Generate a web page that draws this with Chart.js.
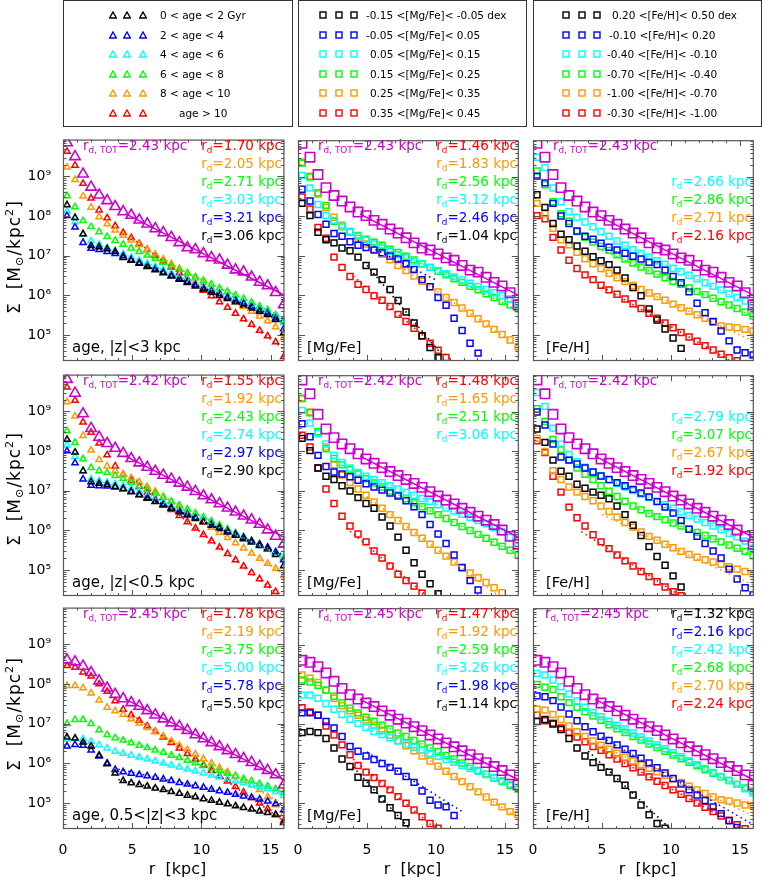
<!DOCTYPE html>
<html>
<head>
<meta charset="utf-8">
<script src="https://cdn.jsdelivr.net/npm/chart.js@4.4.1/dist/chart.umd.min.js"></script>
<style>
body{margin:0;background:#fff;width:763px;height:880px;position:relative;overflow:hidden;font-family:"DejaVu Sans",sans-serif}
canvas{position:absolute}
.t{position:absolute;white-space:nowrap;line-height:1}
.t sub{font-size:66%;vertical-align:-0.3em;line-height:0}
.t sup{font-size:66%;vertical-align:0.55em;line-height:0}
.box{position:absolute;border:1.3px solid #333;box-sizing:border-box}
</style>
</head>
<body>
<script>
"use strict"

// radial bins (kpc)
const radius = [0.29, 0.87, 1.45, 2.03, 2.61, 3.19, 3.77, 4.35, 4.93, 5.51, 6.09, 6.67, 7.25, 7.83,
                8.41, 8.99, 9.57, 10.15, 10.73, 11.31, 11.89, 12.47, 13.05, 13.63, 14.21, 14.79, 15.37, 15.95];

// log10 Sigma of the whole disc, one per row
const totZ3  = [9.85, 9.50, 9.06, 8.73, 8.53, 8.39, 8.24, 8.11, 8.02, 7.90, 7.80, 7.68, 7.58, 7.46, 7.33, 7.20, 7.15, 7.05, 6.95, 6.89, 6.76, 6.64, 6.59, 6.46, 6.33, 6.24, 6.07, 5.76];
const totZ05 = [9.81, 9.46, 8.94, 8.57, 8.35, 8.19, 8.07, 7.94, 7.81, 7.70, 7.59, 7.49, 7.39, 7.29, 7.19, 7.09, 6.98, 6.87, 6.77, 6.67, 6.56, 6.46, 6.36, 6.26, 6.15, 6.01, 5.85, 5.65];
const totZ53 = [8.61, 8.56, 8.45, 8.29, 8.08, 7.90, 7.74, 7.63, 7.53, 7.44, 7.33, 7.22, 7.12, 7.02, 6.93, 6.83, 6.72, 6.62, 6.52, 6.42, 6.32, 6.22, 6.12, 6.02, 5.92, 5.82, 5.71, 5.45];

// log10 Sigma per bin: [black, blue, cyan, green, orange, red]
const ageZ3 = [
  [8.28, 7.96, 7.55, 7.25, 7.22, 7.17, 7.10, 6.95, 6.88, 6.80, 6.72, 6.64, 6.56, 6.48, 6.40, 6.32, 6.23, 6.15, 6.07, 5.99, 5.91, 5.83, 5.75, 5.67, 5.59, 5.51, 5.38, 5.05],
  [8.01, 7.72, 7.33, 7.18, 7.15, 7.10, 7.05, 6.99, 6.90, 6.82, 6.74, 6.66, 6.58, 6.50, 6.42, 6.34, 6.26, 6.18, 6.10, 6.03, 5.95, 5.87, 5.79, 5.71, 5.63, 5.55, 5.42, 5.15],
  [8.12, 7.85, 7.54, 7.37, 7.28, 7.20, 7.12, 7.04, 6.96, 6.88, 6.80, 6.72, 6.64, 6.55, 6.47, 6.39, 6.31, 6.23, 6.15, 6.06, 5.98, 5.90, 5.82, 5.74, 5.66, 5.58, 5.45, 5.30],
  [8.51, 8.23, 7.88, 7.73, 7.60, 7.48, 7.38, 7.28, 7.19, 7.10, 7.01, 6.92, 6.83, 6.74, 6.65, 6.56, 6.46, 6.37, 6.28, 6.18, 6.09, 6.00, 5.91, 5.82, 5.72, 5.63, 5.50, 5.35],
  [9.23, 8.92, 8.50, 8.22, 7.98, 7.80, 7.64, 7.51, 7.39, 7.27, 7.15, 7.03, 6.91, 6.79, 6.67, 6.55, 6.43, 6.31, 6.19, 6.07, 5.95, 5.83, 5.71, 5.59, 5.47, 5.35, 5.20, 4.93],
  [9.63, 9.28, 8.82, 8.45, 8.15, 7.95, 7.75, 7.58, 7.45, 7.30, 7.15, 7.00, 6.86, 6.71, 6.56, 6.41, 6.27, 6.12, 5.98, 5.83, 5.69, 5.54, 5.40, 5.26, 5.11, 4.97, 4.82, 4.45]
];
const mgZ3 = [
  [8.33, 8.02, 7.60, 7.41, 7.33, 7.20, 7.13, 6.97, 6.76, 6.59, 6.40, 6.15, 5.87, 5.58, 5.30, 4.98, 4.68, 4.42, null, null, null, null, null, null, null, null, null, null],
  [8.69, 8.39, 8.05, 7.80, 7.57, 7.50, 7.36, 7.27, 7.21, 7.15, 7.08, 7.00, 6.92, 6.80, 6.66, 6.40, 6.22, 5.95, 5.75, 5.42, 5.11, 4.79, 4.54, null, null, null, null, null],
  [9.04, 8.72, 8.30, 8.03, 7.90, 7.75, 7.62, 7.50, 7.40, 7.30, 7.20, 7.11, 7.03, 6.95, 6.87, 6.79, 6.71, 6.63, 6.55, 6.47, 6.39, 6.31, 6.23, 6.15, 6.07, 5.99, 5.91, 5.80],
  [9.35, 9.00, 8.60, 8.28, 7.88, 7.74, 7.62, 7.52, 7.42, 7.35, 7.27, 7.17, 7.09, 6.99, 6.90, 6.80, 6.71, 6.61, 6.52, 6.42, 6.33, 6.23, 6.14, 6.04, 5.95, 5.85, 5.76, 5.66],
  [9.37, 9.02, 8.57, 8.23, 7.98, 7.78, 7.60, 7.44, 7.30, 7.17, 7.04, 6.90, 6.76, 6.63, 6.49, 6.36, 6.22, 6.09, 5.95, 5.82, 5.68, 5.55, 5.41, 5.28, 5.14, 5.01, 4.87, 4.70],
  [8.49, 8.19, 7.72, 7.45, 6.97, 6.71, 6.48, 6.28, 6.15, 5.99, 5.88, 5.72, 5.52, 5.34, 5.17, 4.97, 4.79, 4.61, 4.43, null, null, null, null, null, null, null, null, null]
];
const feZ3 = [
  [8.55, 8.23, 7.82, 7.55, 7.41, 7.25, 7.12, 6.98, 6.88, 6.78, 6.64, 6.44, 6.20, 5.99, 5.66, 5.38, 5.15, 4.92, 4.66, null, null, null, null, null, null, null, null, null],
  [9.02, 8.85, 8.33, 8.01, 7.82, 7.63, 7.50, 7.42, 7.32, 7.22, 7.15, 7.07, 6.99, 6.92, 6.84, 6.78, 6.64, 6.48, 6.32, 6.09, 5.80, 5.56, 5.34, 5.10, 4.85, 4.62, 4.55, 4.49],
  [9.50, 9.24, 8.72, 8.37, 8.12, 7.98, 7.86, 7.74, 7.62, 7.50, 7.38, 7.27, 7.16, 7.06, 6.97, 6.88, 6.79, 6.69, 6.60, 6.51, 6.42, 6.32, 6.23, 6.14, 6.04, 5.95, 5.86, 5.76],
  [9.15, 8.80, 8.37, 8.07, 7.88, 7.62, 7.47, 7.35, 7.24, 7.14, 7.03, 6.92, 6.82, 6.72, 6.63, 6.54, 6.45, 6.36, 6.28, 6.19, 6.10, 6.02, 5.93, 5.84, 5.76, 5.67, 5.58, 5.48],
  [8.33, 8.07, 7.70, 7.41, 7.28, 7.09, 6.93, 6.80, 6.68, 6.56, 6.45, 6.35, 6.25, 6.15, 6.06, 5.97, 5.88, 5.78, 5.69, 5.60, 5.51, 5.42, 5.32, 5.23, 5.20, 5.18, 5.14, 5.10],
  [8.02, 7.94, 7.47, 7.15, 6.89, 6.68, 6.52, 6.40, 6.26, 6.14, 6.03, 5.91, 5.79, 5.67, 5.55, 5.42, 5.30, 5.18, 5.06, 4.95, 4.84, 4.73, 4.62, 4.51, 4.42, 4.35, null, null]
];
const ageZ05 = [
  [8.29, 7.97, 7.50, 7.22, 7.18, 7.15, 7.10, 7.04, 6.97, 6.89, 6.80, 6.72, 6.63, 6.55, 6.46, 6.38, 6.29, 6.21, 6.12, 6.04, 5.95, 5.87, 5.78, 5.70, 5.61, 5.53, 5.38, 5.10],
  [8.00, 7.70, 7.29, 7.13, 7.12, 7.11, 7.09, 7.05, 6.98, 6.90, 6.82, 6.73, 6.65, 6.57, 6.48, 6.40, 6.32, 6.23, 6.15, 6.07, 5.98, 5.90, 5.82, 5.73, 5.65, 5.57, 5.45, 5.25],
  [8.15, 7.86, 7.50, 7.29, 7.25, 7.21, 7.17, 7.12, 7.05, 6.97, 6.88, 6.79, 6.70, 6.61, 6.52, 6.43, 6.34, 6.25, 6.16, 6.07, 5.98, 5.89, 5.80, 5.71, 5.62, 5.53, 5.44, 5.33],
  [8.51, 8.21, 7.80, 7.58, 7.50, 7.45, 7.38, 7.30, 7.21, 7.12, 7.03, 6.93, 6.83, 6.73, 6.63, 6.53, 6.43, 6.33, 6.23, 6.13, 6.03, 5.93, 5.83, 5.73, 5.63, 5.53, 5.43, 5.30],
  [9.24, 8.88, 8.39, 8.02, 7.78, 7.62, 7.50, 7.40, 7.32, 7.22, 7.10, 6.98, 6.85, 6.72, 6.59, 6.46, 6.33, 6.20, 6.07, 5.94, 5.81, 5.68, 5.55, 5.42, 5.29, 5.16, 5.03, 4.85],
  [9.61, 9.28, 8.73, 8.47, 8.20, 7.90, 7.62, 7.41, 7.25, 7.10, 6.95, 6.80, 6.66, 6.52, 6.37, 6.21, 6.05, 5.89, 5.73, 5.57, 5.41, 5.25, 5.09, 4.93, 4.77, 4.61, 4.45, null]
];
const mgZ05 = [
  [8.33, 8.02, 7.58, 7.37, 7.29, 7.13, 7.00, 6.83, 6.68, 6.56, 6.34, 6.11, 5.83, 5.50, 5.18, 4.89, 4.65, 4.40, null, null, null, null, null, null, null, null, null, null],
  [8.70, 8.37, 7.90, 7.62, 7.48, 7.43, 7.36, 7.27, 7.18, 7.10, 7.02, 6.95, 6.87, 6.75, 6.60, 6.40, 6.15, 5.91, 5.67, 5.38, 5.06, 4.73, 4.49, null, null, null, null, null],
  [9.04, 8.72, 8.45, 8.19, 7.90, 7.72, 7.58, 7.47, 7.37, 7.29, 7.21, 7.13, 7.05, 6.97, 6.89, 6.81, 6.73, 6.65, 6.57, 6.49, 6.41, 6.33, 6.25, 6.17, 6.07, 5.96, 5.82, 5.60],
  [9.35, 8.98, 8.50, 8.07, 7.82, 7.66, 7.54, 7.43, 7.31, 7.20, 7.10, 7.00, 6.90, 6.80, 6.70, 6.60, 6.50, 6.40, 6.30, 6.20, 6.10, 6.00, 5.90, 5.80, 5.70, 5.60, 5.50, 5.38],
  [9.33, 9.00, 8.50, 8.11, 7.66, 7.40, 7.21, 7.05, 6.89, 6.72, 6.56, 6.40, 6.25, 6.10, 5.95, 5.80, 5.65, 5.50, 5.35, 5.20, 5.05, 4.92, 4.80, 4.68, 4.55, 4.42, null, null],
  [8.41, 8.11, 7.58, 7.05, 6.68, 6.36, 6.11, 5.91, 5.71, 5.48, 5.30, 5.10, 4.89, 4.73, 4.59, 4.41, null, null, null, null, null, null, null, null, null, null, null, null]
];
const feZ05 = [
  [8.57, 8.23, 7.78, 7.50, 7.37, 7.17, 7.07, 6.97, 6.89, 6.80, 6.62, 6.40, 6.13, 5.87, 5.59, 5.34, 5.12, 4.85, 4.57, null, null, null, null, null, null, null, null, null],
  [9.00, 8.67, 8.19, 7.86, 7.78, 7.68, 7.58, 7.48, 7.38, 7.29, 7.21, 7.13, 7.04, 6.95, 6.85, 6.73, 6.59, 6.44, 6.25, 6.03, 5.85, 5.67, 5.48, 5.30, 5.02, 4.77, 4.55, 4.37],
  [9.49, 9.14, 8.59, 8.18, 7.92, 7.74, 7.60, 7.48, 7.37, 7.28, 7.19, 7.10, 7.01, 6.92, 6.83, 6.74, 6.65, 6.56, 6.47, 6.38, 6.29, 6.20, 6.11, 6.02, 5.93, 5.84, 5.73, 5.55],
  [9.08, 8.76, 8.30, 8.05, 7.78, 7.58, 7.42, 7.29, 7.13, 6.99, 6.86, 6.74, 6.62, 6.52, 6.43, 6.35, 6.27, 6.19, 6.11, 6.03, 5.95, 5.87, 5.79, 5.71, 5.63, 5.55, 5.47, 5.36],
  [8.33, 8.00, 7.51, 7.29, 7.10, 6.97, 6.86, 6.75, 6.62, 6.48, 6.34, 6.20, 6.08, 5.96, 5.85, 5.75, 5.65, 5.56, 5.47, 5.39, 5.32, 5.26, 5.20, 5.14, 5.08, 5.02, 4.96, 4.90],
  [8.27, 7.97, 7.37, 6.97, 6.59, 6.32, 6.11, 5.89, 5.71, 5.54, 5.38, 5.23, 5.10, 4.96, 4.83, 4.70, 4.57, 4.45, 4.35, null, null, null, null, null, null, null, null, null]
];
const ageZ53 = [
  [6.66, 6.63, 6.53, 6.43, 6.20, 5.98, 5.75, 5.56, 5.50, 5.46, 5.42, 5.37, 5.33, 5.28, 5.24, 5.19, 5.15, 5.10, 5.06, 5.01, 4.97, 4.92, 4.88, 4.84, 4.79, 4.75, 4.70, 4.50],
  [6.43, 6.47, 6.45, 6.33, 6.18, 6.00, 5.84, 5.78, 5.74, 5.71, 5.68, 5.64, 5.60, 5.56, 5.51, 5.47, 5.43, 5.39, 5.34, 5.30, 5.26, 5.21, 5.17, 5.13, 5.09, 5.04, 4.98, 4.82],
  [6.61, 6.63, 6.61, 6.55, 6.46, 6.38, 6.30, 6.25, 6.20, 6.15, 6.10, 6.05, 6.00, 5.95, 5.90, 5.85, 5.80, 5.75, 5.70, 5.65, 5.60, 5.55, 5.50, 5.45, 5.40, 5.35, 5.28, 5.18],
  [7.00, 7.10, 7.10, 7.00, 6.84, 6.72, 6.64, 6.58, 6.51, 6.45, 6.39, 6.33, 6.27, 6.20, 6.14, 6.07, 6.01, 5.94, 5.88, 5.81, 5.74, 5.68, 5.61, 5.55, 5.48, 5.42, 5.35, 5.25],
  [7.96, 7.96, 7.90, 7.77, 7.59, 7.41, 7.32, 7.23, 7.12, 7.01, 6.90, 6.79, 6.68, 6.56, 6.45, 6.34, 6.23, 6.11, 6.00, 5.89, 5.78, 5.67, 5.56, 5.45, 5.33, 5.15, 4.95, 4.72],
  [8.46, 8.42, 8.30, 8.20, 8.00, 7.81, 7.57, 7.36, 7.22, 7.08, 6.94, 6.80, 6.66, 6.52, 6.38, 6.24, 6.10, 5.96, 5.82, 5.68, 5.55, 5.41, 5.27, 5.13, 4.99, 4.85, 4.70, 4.55]
];
const mgZ53 = [
  [6.78, 6.81, 6.78, 6.63, 6.39, 6.11, 5.92, 5.65, 5.50, 5.33, 5.10, 4.88, 4.68, 4.50, null, null, null, null, null, null, null, null, null, null, null, null, null, null],
  [7.28, 7.28, 7.22, 7.06, 6.90, 6.68, 6.43, 6.31, 6.19, 6.10, 6.00, 5.90, 5.80, 5.67, 5.52, 5.30, 5.07, 4.95, 4.90, 4.68, null, null, null, null, null, null, null, null],
  [7.73, 7.73, 7.65, 7.51, 7.37, 7.24, 7.12, 7.01, 6.91, 6.81, 6.73, 6.65, 6.57, 6.49, 6.41, 6.33, 6.26, 6.18, 6.10, 6.03, 5.95, 5.87, 5.80, 5.72, 5.64, 5.56, 5.47, 5.40],
  [8.11, 8.06, 7.98, 7.86, 7.70, 7.53, 7.40, 7.28, 7.17, 7.07, 6.97, 6.87, 6.77, 6.68, 6.58, 6.49, 6.39, 6.30, 6.20, 6.11, 6.01, 5.92, 5.82, 5.73, 5.63, 5.54, 5.44, 5.35],
  [8.24, 8.16, 8.05, 7.85, 7.65, 7.46, 7.33, 7.22, 7.10, 6.97, 6.84, 6.71, 6.58, 6.45, 6.32, 6.19, 6.06, 5.93, 5.80, 5.67, 5.54, 5.41, 5.28, 5.15, 5.02, 4.90, 4.78, 4.70],
  [7.41, 7.30, 7.22, 6.95, 6.72, 6.47, 6.22, 5.95, 5.78, 5.64, 5.49, 5.33, 5.16, 4.99, 4.82, 4.65, 4.48, 4.36, null, null, null, null, null, null, null, null, null, null]
];
const feZ53 = [
  [7.06, 7.11, 7.00, 6.86, 6.63, 6.39, 6.19, 6.02, 5.90, 5.78, 5.62, 5.45, 5.20, 4.95, 4.70, 4.48, 4.36, null, null, null, null, null, null, null, null, null, null, null],
  [7.71, 7.69, 7.59, 7.43, 7.25, 7.08, 6.93, 6.80, 6.69, 6.58, 6.47, 6.36, 6.25, 6.13, 6.01, 5.89, 5.76, 5.62, 5.48, 5.33, 5.20, 5.06, 4.90, 4.73, 4.55, 4.38, null, null],
  [8.28, 8.24, 8.11, 7.94, 7.76, 7.58, 7.42, 7.29, 7.18, 7.07, 6.97, 6.87, 6.77, 6.67, 6.57, 6.47, 6.37, 6.27, 6.17, 6.07, 5.97, 5.87, 5.77, 5.67, 5.57, 5.47, 5.36, 5.25],
  [8.00, 7.93, 7.87, 7.69, 7.54, 7.42, 7.31, 7.20, 7.09, 6.98, 6.88, 6.78, 6.68, 6.59, 6.49, 6.40, 6.31, 6.21, 6.12, 6.03, 5.94, 5.84, 5.75, 5.66, 5.57, 5.47, 5.38, 5.30],
  [7.37, 7.35, 7.24, 7.11, 6.95, 6.80, 6.68, 6.57, 6.46, 6.36, 6.26, 6.16, 6.06, 5.97, 5.88, 5.79, 5.70, 5.61, 5.52, 5.42, 5.33, 5.24, 5.15, 5.08, 5.05, 5.00, 4.95, 4.93],
  [7.22, 7.08, 7.02, 6.90, 6.78, 6.67, 6.55, 6.43, 6.33, 6.22, 6.11, 6.00, 5.89, 5.78, 5.66, 5.55, 5.44, 5.33, 5.22, 5.11, 5.00, 4.89, 4.78, 4.67, 4.56, 4.45, 4.35, null]
];

// exponential fits, ends as [r0, log0, r1, log1]
const fitAgeZ3 = [[5, 6.88, 16, 5.32], [5, 6.88, 16, 5.39], [5, 6.97, 16, 5.39], [5, 7.20, 16, 5.43], [5, 7.40, 16, 5.07], [5, 7.44, 16, 4.63]];
const fitMgZ3  = [[5, 6.76, 10.5, 4.47], [4, 7.45, 10, 6.39], [5, 7.35, 16, 5.82], [5, 7.48, 16, 5.62], [5, 7.31, 16, 4.70], [4, 6.49, 11.5, 4.26]];
const fitFeZ3  = [null, null, [5, 7.53, 16, 5.73], [5, 7.14, 16, 5.47], [5, 6.61, 16, 4.84], [5, 6.22, 16, 4.00]];
const fitAgeZ05 = [[5, 6.98, 16, 5.33], [5, 6.98, 16, 5.37], [5, 7.07, 16, 5.32], [5, 7.25, 16, 5.28], [5, 7.36, 16, 4.88], [5, 7.33, 16, 4.25]];
const fitMgZ05  = [null, null, [5, 7.38, 16, 5.82], [5, 7.29, 16, 5.39], [5, 6.86, 16, 3.96], [3.5, 6.06, 10, 4.15]];
const fitFeZ05  = [null, null, [5, 7.36, 16, 5.65], [5, 6.92, 16, 5.36], [5, 6.40, 16, 4.61], [3.5, 5.97, 11, 4.27]];
const fitAgeZ53 = [[4, 5.59, 16, 4.64], [4, 5.85, 16, 4.95], [4, 6.28, 16, 5.24], [4, 6.65, 16, 5.26], [5, 7.13, 16, 4.95], [5, 7.22, 16, 4.53]];
const fitMgZ53  = [[4, 5.91, 8.5, 4.19], [5, 6.29, 12, 4.76], [5, 6.87, 16, 5.40], [5, 7.16, 16, 5.32], [5, 7.10, 16, 4.61], [4, 6.11, 11, 4.04]];
const fitFeZ53  = [[4, 6.31, 10, 4.33], [5, 6.66, 16, 4.44], [5, 7.19, 16, 5.22], [5, 7.04, 16, 5.26], [5, 6.44, 16, 4.67], [5, 6.33, 16, 4.20]];
const fitTot = [[4.5, 8.06, 16, 6.00], [4.5, 7.88, 16, 5.82], [4.5, 7.62, 16, 5.58]];

// scale lengths written in the panels: [bin, value]
const rdAgeZ3 = [[5, '1.70'], [4, '2.05'], [3, '2.71'], [2, '3.03'], [1, '3.21'], [0, '3.06']];
const rdMgZ3  = [[5, '1.46'], [4, '1.83'], [3, '2.56'], [2, '3.12'], [1, '2.46'], [0, '1.04']];
const rdFeZ3  = [[2, '2.66'], [3, '2.86'], [4, '2.71'], [5, '2.16']];
const rdAgeZ05 = [[5, '1.55'], [4, '1.92'], [3, '2.43'], [2, '2.74'], [1, '2.97'], [0, '2.90']];
const rdMgZ05  = [[5, '1.48'], [4, '1.65'], [3, '2.51'], [2, '3.06']];
const rdFeZ05  = [[2, '2.79'], [3, '3.07'], [4, '2.67'], [5, '1.92']];
const rdAgeZ53 = [[5, '1.78'], [4, '2.19'], [3, '3.75'], [2, '5.00'], [1, '5.78'], [0, '5.50']];
const rdMgZ53  = [[5, '1.47'], [4, '1.92'], [3, '2.59'], [2, '3.26'], [1, '1.98'], [0, '1.14']];
const rdFeZ53  = [[0, '1.32'], [1, '2.16'], [2, '2.42'], [3, '2.68'], [4, '2.70'], [5, '2.24']];
const rdTot = ['2.43', '2.42', '2.45'];

const ageBins = ['0 < age < 2 Gyr', '2 < age < 4', '4 < age < 6', '6 < age < 8', '8 < age < 10', 'age > 10'];
const mgBins = ['-0.15 <[Mg/Fe]< -0.05 dex', '-0.05 <[Mg/Fe]< 0.05', '0.05 <[Mg/Fe]< 0.15', '0.15 <[Mg/Fe]< 0.25', '0.25 <[Mg/Fe]< 0.35', '0.35 <[Mg/Fe]< 0.45'];
const feBins = ['0.20 <[Fe/H]< 0.50 dex', '-0.10 <[Fe/H]< 0.20', '-0.40 <[Fe/H]< -0.10', '-0.70 <[Fe/H]< -0.40', '-1.00 <[Fe/H]< -0.70', '-0.30 <[Fe/H]< -1.00'];

const binColors = ['#000000', '#0000ff', '#00ffff', '#00ff00', '#ff9900', '#ff0000'];
const totColor = '#cc00cc';

const COL_LEFT = [63, 298, 533];
const ROW_TOP = [132, 367, 600];
const PW = 229, PH = 229, AXIS_W = 63, AXIS_H = 40;
const FONT = '"DejaVu Sans", sans-serif';
const SUP = {5: '\u2075', 6: '\u2076', 7: '\u2077', 8: '\u2078', 9: '\u2079'};

Chart.defaults.font.family = FONT;

function text(html, x, y, color, size, right) {
  const d = document.createElement('div');
  d.className = 't';
  d.innerHTML = html;
  d.style.left = x + 'px';
  d.style.top = y + 'px';
  d.style.color = color;
  d.style.fontSize = size + 'px';
  d.style.transform = right ? 'translate(-100%,-50%)' : 'translate(0,-50%)';
  document.body.appendChild(d);
  return d;
}

// inward ticks and frame, like the original
const framePlugin = {
  id: 'frame',
  afterDatasetsDraw(chart) {
    const {ctx, chartArea: a, scales: {x, y}} = chart;
    ctx.save();
    ctx.strokeStyle = '#555';
    ctx.lineWidth = 1;
    ctx.beginPath();
    for (let v = 1; v < 16; v++) {
      const px = Math.round(x.getPixelForValue(v)) + 0.5;
      const len = v % 5 === 0 ? 6 : 3;
      ctx.moveTo(px, a.bottom); ctx.lineTo(px, a.bottom - len);
      ctx.moveTo(px, a.top); ctx.lineTo(px, a.top + len);
    }
    for (let e = 4; e <= 9; e++) {
      for (let m = 1; m <= 9; m++) {
        const v = m * Math.pow(10, e);
        if (v < y.min || v > y.max) continue;
        const py = Math.round(y.getPixelForValue(v)) + 0.5;
        const len = m === 1 ? 7 : 3.5;
        ctx.moveTo(a.left, py); ctx.lineTo(a.left + len, py);
        ctx.moveTo(a.right, py); ctx.lineTo(a.right - len, py);
      }
    }
    ctx.stroke();
    ctx.lineWidth = 1.2;
    ctx.strokeRect(a.left + 0.5, a.top + 0.5, a.width - 1, a.height - 1);
    ctx.restore();
  }
};

function points(vals) {
  return radius.map((r, i) => vals[i] == null ? null : {x: r, y: Math.pow(10, vals[i])}).filter(p => p);
}

function fitLine(f) {
  return [{x: f[0], y: Math.pow(10, f[1])}, {x: f[2], y: Math.pow(10, f[3])}];
}

function makePanel(row, col, bins, fits, rds, name) {
  const tri = col === 0;
  const style = tri ? 'triangle' : 'rect';
  const datasets = [];

  datasets.push({data: points([totZ3, totZ05, totZ53][row]), pointStyle: style,
    pointRadius: tri ? 6 : 6.6, borderColor: totColor, backgroundColor: 'rgba(0,0,0,0)',
    pointBorderWidth: 1.6, clip: 0});
  datasets.push({data: fitLine(fitTot[row]), showLine: true, borderColor: totColor, borderWidth: 1.5,
    pointRadius: 0, clip: 0});

  bins.forEach((vals, i) => {
    if (fits[i]) {
      datasets.push({data: fitLine(fits[i]), showLine: true, borderColor: binColors[i], borderWidth: 1.6,
        borderDash: [1.5, 3.5], pointRadius: 0, clip: 0});
    }
  });
  bins.forEach((vals, i) => {
    datasets.push({data: points(vals), pointStyle: style, pointRadius: tri ? 3.6 : 4.2,
      borderColor: binColors[i], backgroundColor: 'rgba(0,0,0,0)', pointBorderWidth: 1.5, clip: 0});
  });

  const cv = document.createElement('canvas');
  cv.width = AXIS_W + PW;
  cv.height = PH + AXIS_H;
  cv.style.left = (COL_LEFT[col] - AXIS_W) + 'px';
  cv.style.top = ROW_TOP[row] + 'px';
  document.body.appendChild(cv);

  new Chart(cv, {
    type: 'scatter',
    data: {datasets: datasets},
    plugins: [framePlugin],
    options: {
      responsive: false, animation: false, events: [], devicePixelRatio: 1,
      layout: {padding: 0},
      plugins: {legend: {display: false}, tooltip: {enabled: false}},
      scales: {
        x: {
          type: 'linear', min: 0, max: 16,
          grid: {display: false}, border: {display: false},
          ticks: {display: row === 2, color: '#000', font: {size: 14}, padding: 5, maxRotation: 0, autoSkip: false},
          afterBuildTicks: s => { s.ticks = [0, 5, 10, 15].map(v => ({value: v})); },
          afterFit: s => { s.height = AXIS_H; s.paddingLeft = 0; s.paddingRight = 0; }
        },
        y: {
          type: 'logarithmic', min: Math.pow(10, 4.34), max: Math.pow(10, 9.93),
          grid: {display: false}, border: {display: false},
          ticks: {display: col === 0, color: '#000', font: {size: 14}, padding: 4,
            callback: v => '10' + SUP[Math.round(Math.log10(v))]},
          afterBuildTicks: s => { s.ticks = [5, 6, 7, 8, 9].map(e => ({value: Math.pow(10, e)})); },
          afterFit: s => { s.width = AXIS_W; s.paddingTop = 0; s.paddingBottom = 0; }
        }
      }
    }
  });

  // annotations
  const left = COL_LEFT[col], top = ROW_TOP[row];
  const totX = (row === 2 && col === 2) ? left + 12 : left + 20;
  text('r<sub>d, TOT</sub>=' + rdTot[row] + ' kpc', totX, top + 14, totColor, 13.5);
  const start = (col === 2 && row < 2) ? 2 : 0;
  rds.forEach((e, k) => {
    text('r<sub>d</sub>=' + e[1] + ' kpc', left + PW - 10, top + 14 + (start + k) * 18, binColors[e[0]], 13.5, true);
  });
  text(name, left + (col === 2 ? 13 : 9), top + 215, '#000', col === 0 ? 15 : 14.5);
}

makePanel(0, 0, ageZ3, fitAgeZ3, rdAgeZ3, 'age, |z|&lt;3 kpc');
makePanel(0, 1, mgZ3, fitMgZ3, rdMgZ3, '[Mg/Fe]');
makePanel(0, 2, feZ3, fitFeZ3, rdFeZ3, '[Fe/H]');
makePanel(1, 0, ageZ05, fitAgeZ05, rdAgeZ05, 'age, |z|&lt;0.5 kpc');
makePanel(1, 1, mgZ05, fitMgZ05, rdMgZ05, '[Mg/Fe]');
makePanel(1, 2, feZ05, fitFeZ05, rdFeZ05, '[Fe/H]');
makePanel(2, 0, ageZ53, fitAgeZ53, rdAgeZ53, 'age, 0.5&lt;|z|&lt;3 kpc');
makePanel(2, 1, mgZ53, fitMgZ53, rdMgZ53, '[Mg/Fe]');
makePanel(2, 2, feZ53, fitFeZ53, rdFeZ53, '[Fe/H]');

// axis titles
[257, 489, 714].forEach(cy => {
  const d = text('&Sigma;&nbsp;&nbsp;[M<sub>&#8857;</sub>/kpc<sup>2</sup>]', 14, cy, '#000', 17);
  d.style.transform = 'translate(-50%,-50%) rotate(-90deg)';
  d.style.letterSpacing = '1px';
});
COL_LEFT.forEach(l => {
  const d = text('r&nbsp;&nbsp;[kpc]', l + PW / 2, 869, '#000', 16);
  d.style.transform = 'translate(-50%,-50%)';
});

// legend boxes
function symbol(kind, color) {
  const shape = kind === 'tri'
    ? '<polygon points="4,1 7.4,7 0.6,7" fill="none" stroke="' + color + '" stroke-width="1.4"/>'
    : '<rect x="1" y="1" width="6" height="6" fill="none" stroke="' + color + '" stroke-width="1.4"/>';
  return '<svg width="8" height="8" style="position:absolute">' + shape + '</svg>';
}
const legends = [
  {labels: ageBins, kind: 'tri', left: 63, w: 230, sx: [113, 127, 143], tx: [160, 160, 160, 160, 160, 179]},
  {labels: mgBins, kind: 'sq', left: 298, w: 229, sx: [323, 339, 354], tx: [366, 366, 370, 370, 370, 370]},
  {labels: feBins, kind: 'sq', left: 533, w: 229, sx: [566, 582, 597], tx: [612, 609, 607, 607, 607, 607]}
];
legends.forEach(lg => {
  const b = document.createElement('div');
  b.className = 'box';
  b.style.left = lg.left + 'px'; b.style.top = '0px';
  b.style.width = lg.w + 'px'; b.style.height = '127px';
  document.body.appendChild(b);
  lg.labels.forEach((lab, k) => {
    const cy = 15 + k * 19.6;
    lg.sx.forEach(x => {
      const s = document.createElement('div');
      s.style.position = 'absolute';
      s.style.left = (x - 4) + 'px'; s.style.top = (cy - 4) + 'px';
      s.innerHTML = symbol(lg.kind, binColors[k]);
      document.body.appendChild(s);
    });
    text(lab.replace(/</g, '&lt;').replace(/>/g, '&gt;'), lg.tx[k], cy, '#000', 10.5);
  });
});
</script>
</body>
</html>
